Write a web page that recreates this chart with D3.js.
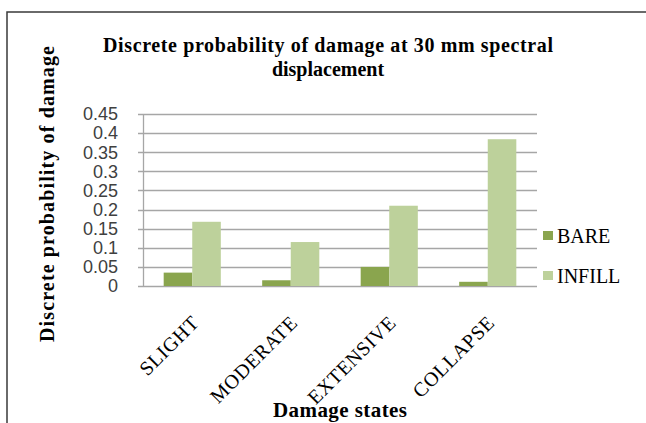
<!DOCTYPE html>
<html>
<head>
<meta charset="utf-8">
<script src="https://cdn.jsdelivr.net/npm/d3@7"></script>
<style>
  body { margin: 0; background: #fff; }
  svg { display: block; }
</style>
</head>
<body>
<script>
// chart data
const categories = ["SLIGHT", "MODERATE", "EXTENSIVE", "COLLAPSE"];
const seriesNames = ["BARE", "INFILL"];
const bare = [0.035, 0.015, 0.05, 0.011];
const infill = [0.168, 0.115, 0.21, 0.384];
const yTicks = [0, 0.05, 0.1, 0.15, 0.2, 0.25, 0.3, 0.35, 0.4, 0.45];
const colors = ["#8aa54e", "#bdd19b"];

const W = 646, H = 423;
const plot = { left: 143, right: 537, top: 114, bottom: 286 };
const serif = "'Liberation Serif', 'Times New Roman', serif";

const svg = d3.select("body").append("svg")
    .attr("width", W)
    .attr("height", H);

// outer chart frame (runs off the right and bottom edge)
svg.append("rect")
    .attr("x", 7).attr("y", 12)
    .attr("width", W + 20).attr("height", H + 20)
    .attr("fill", "none")
    .attr("stroke", "#3a3a3a")
    .attr("stroke-width", 1.5);

const x = d3.scaleBand()
    .domain(categories)
    .range([plot.left, plot.right])
    .paddingInner(0.42)
    .paddingOuter(0.21);

const xs = d3.scaleBand()
    .domain(seriesNames)
    .range([0, x.bandwidth()]);

const y = d3.scaleLinear()
    .domain([0, 0.45])
    .range([plot.bottom, plot.top]);

// gridlines
svg.append("g")
    .selectAll("line")
    .data(yTicks)
    .join("line")
      .attr("x1", plot.left - 5)
      .attr("x2", plot.right)
      .attr("y1", d => Math.round(y(d)) + 0.5)
      .attr("y2", d => Math.round(y(d)) + 0.5)
      .attr("stroke", "#a6a6a6")
      .attr("stroke-width", 1.3);

// y axis line
svg.append("line")
    .attr("x1", plot.left + 0.5).attr("x2", plot.left + 0.5)
    .attr("y1", plot.top).attr("y2", plot.bottom + 1)
    .attr("stroke", "#a6a6a6")
    .attr("stroke-width", 1.3);

// tick labels
svg.append("g")
    .attr("font-family", "'Liberation Sans', Arial, sans-serif")
    .attr("font-size", 18)
    .attr("fill", "#404040")
    .attr("text-anchor", "end")
  .selectAll("text")
  .data(yTicks)
  .join("text")
    .attr("x", 118)
    .attr("y", d => y(d))
    .attr("dy", "0.35em")
    .text(d => d3.format("")(d));

// bars
const rows = categories.map((c, i) => ({ cat: c, values: [bare[i], infill[i]] }));

svg.append("g")
  .selectAll("g")
  .data(rows)
  .join("g")
    .attr("transform", d => `translate(${x(d.cat)},0)`)
  .selectAll("rect")
  .data(d => d.values.map((v, j) => ({ name: seriesNames[j], v, j })))
  .join("rect")
    .attr("x", d => xs(d.name))
    .attr("width", xs.bandwidth())
    .attr("y", d => y(d.v))
    .attr("height", d => y(0) - y(d.v))
    .attr("fill", d => colors[d.j]);

// x category labels, rotated
svg.append("g")
    .attr("font-family", serif)
    .attr("font-size", 20)
    .attr("letter-spacing", 0.6)
    .attr("fill", "#000")
    .attr("text-anchor", "end")
  .selectAll("text")
  .data(categories)
  .join("text")
    .attr("transform", d => `translate(${x(d) + x.bandwidth() / 2 + 8},324) rotate(-45)`)
    .text(d => d);

// legend
const legend = svg.append("g")
    .attr("font-family", serif)
    .attr("font-size", 20)
  .selectAll("g")
  .data(seriesNames)
  .join("g")
    .attr("transform", (d, i) => `translate(543,${231 + i * 40})`);

legend.append("rect")
    .attr("width", 10).attr("height", 9)
    .attr("fill", (d, i) => colors[i]);

legend.append("text")
    .attr("x", 14)
    .attr("y", 12)
    .text(d => d);

// titles
const title = svg.append("text")
    .attr("font-family", serif)
    .attr("font-weight", "bold")
    .attr("font-size", 20)
    .attr("text-anchor", "middle");
title.append("tspan").attr("x", 328).attr("y", 52)
    .attr("textLength", 450)
    .attr("lengthAdjust", "spacing")
    .text("Discrete probability of damage at 30 mm spectral");
title.append("tspan").attr("x", 328).attr("y", 76)
    .text("displacement");

svg.append("text")
    .attr("transform", "translate(54,194) rotate(-90)")
    .attr("font-family", serif)
    .attr("font-weight", "bold")
    .attr("font-size", 20)
    .attr("text-anchor", "middle")
    .attr("textLength", 296)
    .attr("lengthAdjust", "spacing")
    .text("Discrete probability of damage");

svg.append("text")
    .attr("x", (plot.left + plot.right) / 2)
    .attr("y", 417)
    .attr("font-family", serif)
    .attr("font-weight", "bold")
    .attr("font-size", 21)
    .attr("text-anchor", "middle")
    .attr("textLength", 134)
    .attr("lengthAdjust", "spacing")
    .text("Damage states");
</script>
</body>
</html>
